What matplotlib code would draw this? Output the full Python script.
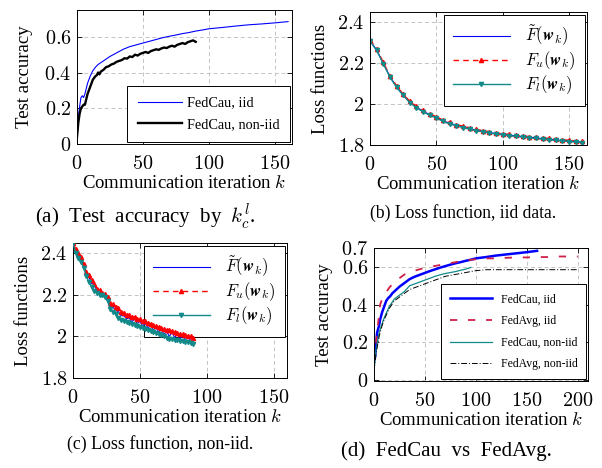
import matplotlib
matplotlib.use("Agg")
import matplotlib.pyplot as plt

plt.rcParams['font.family'] = ['Liberation Serif', 'DejaVu Serif']
plt.rcParams['mathtext.fontset'] = 'cm'

# ---------- (a) test accuracy ----------
k_a_iid = [0, 1, 2, 3, 4, 5, 6, 7, 8, 10, 12, 14, 16, 18, 20, 25, 30, 35, 40, 45, 50,
           55, 60, 65, 70, 75, 80, 85, 90, 95, 100, 110, 120, 130, 140, 150, 160]
acc_a_iid = [0.05, 0.15, 0.21, 0.26, 0.27, 0.26, 0.28, 0.31, 0.34, 0.38, 0.41, 0.43,
             0.445, 0.455, 0.465, 0.49, 0.51, 0.53, 0.545, 0.555, 0.565, 0.575, 0.585,
             0.595, 0.603, 0.61, 0.618, 0.624, 0.632, 0.638, 0.645, 0.652, 0.66, 0.667,
             0.672, 0.678, 0.685]
k_a_non = [0, 1, 2, 3, 4, 5, 6, 7, 8, 9, 10, 11, 12, 13, 14, 15, 16, 17, 18, 19, 20, 22,
           24, 26, 28, 30, 32, 34, 36, 38, 40, 42, 44, 46, 48, 50, 52, 54, 56, 58, 60, 62,
           64, 66, 68, 70, 72, 74, 76, 78, 80, 82, 84, 86, 88, 90]
acc_a_non = [0.04, 0.12, 0.17, 0.20, 0.21, 0.22, 0.22, 0.25, 0.28, 0.30, 0.32, 0.34,
             0.36, 0.37, 0.38, 0.385, 0.40, 0.39, 0.405, 0.41, 0.415, 0.43, 0.435, 0.445,
             0.45, 0.46, 0.465, 0.47, 0.48, 0.478, 0.49, 0.487, 0.50, 0.495, 0.505, 0.51,
             0.515, 0.51, 0.52, 0.525, 0.53, 0.527, 0.535, 0.54, 0.537, 0.545, 0.55, 0.545,
             0.555, 0.56, 0.565, 0.56, 0.57, 0.575, 0.58, 0.572]

# ---------- (b) loss, iid ----------
k_b = [0, 5, 10, 15, 20, 25, 30, 35, 40, 45, 50, 55, 60, 65, 70, 75, 80, 85, 90, 95,
       100, 105, 110, 115, 120, 125, 130, 135, 140, 145, 150, 155, 160]
F_bar_b = [2.31, 2.265, 2.20, 2.135, 2.085, 2.045, 2.01, 1.985, 1.965, 1.948, 1.935,
           1.918, 1.906, 1.897, 1.888, 1.88, 1.873, 1.867, 1.861, 1.856, 1.852, 1.848,
           1.845, 1.841, 1.838, 1.835, 1.831, 1.828, 1.825, 1.822, 1.82, 1.817, 1.814]
F_u_b = [2.313, 2.27, 2.204, 2.138, 2.09, 2.048, 2.014, 1.99, 1.969, 1.952, 1.939,
         1.921, 1.91, 1.9, 1.892, 1.884, 1.877, 1.87, 1.865, 1.86, 1.855, 1.852,
         1.848, 1.845, 1.841, 1.838, 1.835, 1.832, 1.828, 1.826, 1.823, 1.82, 1.818]
F_l_b = [2.308, 2.262, 2.197, 2.132, 2.082, 2.042, 2.007, 1.982, 1.962, 1.945, 1.932,
         1.915, 1.903, 1.894, 1.885, 1.877, 1.87, 1.864, 1.858, 1.853, 1.849, 1.845,
         1.842, 1.838, 1.835, 1.832, 1.828, 1.825, 1.822, 1.819, 1.817, 1.814, 1.812]

# ---------- (c) loss, non-iid ----------
k_c = [0, 2, 4, 6, 8, 10, 12, 14, 16, 18, 20, 22, 24, 26, 28, 30, 32, 34, 36, 38, 40,
       42, 44, 46, 48, 50, 52, 54, 56, 58, 60, 62, 64, 66, 68, 70, 72, 74, 76, 78, 80,
       82, 84, 86, 88, 90]
F_u_c = [2.45, 2.42, 2.40, 2.385, 2.35, 2.31, 2.295, 2.27, 2.255, 2.23, 2.225, 2.21,
         2.205, 2.19, 2.16, 2.155, 2.14, 2.138, 2.12, 2.115, 2.105, 2.102, 2.095, 2.093,
         2.085, 2.082, 2.075, 2.073, 2.065, 2.062, 2.055, 2.052, 2.045, 2.043, 2.035,
         2.033, 2.03, 2.025, 2.022, 2.015, 2.012, 2.01, 2.005, 2.002, 2.0, 1.995]
F_bar_c = [2.45, 2.41, 2.395, 2.37, 2.34, 2.30, 2.285, 2.255, 2.25, 2.215, 2.215, 2.205,
           2.2, 2.18, 2.145, 2.14, 2.125, 2.12, 2.1, 2.1, 2.085, 2.09, 2.07, 2.085,
           2.06, 2.075, 2.05, 2.065, 2.04, 2.055, 2.03, 2.045, 2.02, 2.035, 2.01, 2.025,
           2.0, 2.02, 1.995, 2.01, 1.99, 2.0, 1.985, 1.995, 1.98, 1.975]
F_l_c = [2.45, 2.40, 2.38, 2.36, 2.33, 2.29, 2.26, 2.24, 2.22, 2.21, 2.20, 2.20, 2.19,
         2.17, 2.13, 2.12, 2.11, 2.09, 2.08, 2.075, 2.07, 2.065, 2.06, 2.055, 2.05,
         2.045, 2.04, 2.035, 2.03, 2.025, 2.02, 2.015, 2.01, 2.005, 2.0, 1.995, 1.99,
         1.988, 1.985, 1.982, 1.98, 1.978, 1.975, 1.972, 1.97, 1.965]

# ---------- (d) FedCau vs FedAvg ----------
k_d_cau_iid = [0, 1, 2, 3, 4, 5, 6, 8, 10, 12, 14, 16, 18, 20, 25, 30, 35, 40, 45, 50,
               55, 60, 65, 70, 75, 80, 85, 90, 95, 100, 110, 120, 130, 140, 150, 160]
acc_d_cau_iid = [0.10, 0.12, 0.19, 0.25, 0.27, 0.29, 0.32, 0.36, 0.39, 0.42, 0.435, 0.445,
                 0.46, 0.47, 0.495, 0.515, 0.535, 0.548, 0.558, 0.568, 0.578, 0.587,
                 0.596, 0.604, 0.612, 0.619, 0.625, 0.632, 0.638, 0.645, 0.652, 0.66,
                 0.666, 0.672, 0.678, 0.685]
k_d_avg_iid = [0, 2, 4, 6, 8, 10, 15, 20, 25, 30, 35, 40, 50, 60, 70, 80, 90, 100, 110,
               120, 130, 140, 150, 160, 170, 180, 190, 200]
acc_d_avg_iid = [0.10, 0.20, 0.30, 0.40, 0.43, 0.45, 0.49, 0.52, 0.54, 0.56, 0.57, 0.58,
                 0.595, 0.605, 0.615, 0.625, 0.635, 0.64, 0.645, 0.645, 0.648, 0.65,
                 0.65, 0.652, 0.652, 0.655, 0.655, 0.655]
k_d_cau_non = [0, 2, 5, 8, 10, 15, 20, 25, 30, 35, 40, 45, 50, 55, 60, 65, 70, 75, 80,
               85, 90, 95]
acc_d_cau_non = [0.05, 0.16, 0.25, 0.30, 0.33, 0.39, 0.43, 0.45, 0.47, 0.50, 0.51, 0.52,
                 0.53, 0.54, 0.55, 0.558, 0.565, 0.57, 0.575, 0.582, 0.588, 0.597]
k_d_avg_non = [0, 2, 5, 8, 10, 15, 20, 25, 30, 35, 40, 50, 60, 70, 80, 90, 100, 110,
               120, 140, 160, 180, 200]
acc_d_avg_non = [0.05, 0.14, 0.23, 0.29, 0.32, 0.38, 0.42, 0.44, 0.46, 0.48, 0.49,
                 0.51, 0.53, 0.55, 0.56, 0.57, 0.58, 0.585, 0.585, 0.585, 0.585, 0.585,
                 0.585]

xlabel = r'Communication iteration $k$'
teal = '#138a8a'
LAB = 13.5   # axis label size
TCK = 14.5   # tick label size

fig = plt.figure(figsize=(6.02, 4.68), dpi=100)


def style(ax, xlim, ylim, xticks, yticks, ylabels):
    ax.set_xlim(*xlim)
    ax.set_ylim(*ylim)
    ax.set_xticks(xticks)
    ax.set_xticklabels(['$%d$' % t for t in xticks])
    ax.set_yticks(yticks)
    ax.set_yticklabels(['$%s$' % s for s in ylabels])
    ax.tick_params(direction='in', top=True, right=True, length=3.5, width=0.6,
                   labelsize=TCK, pad=4)
    ax.tick_params(axis='x', pad=8)
    ax.grid(True, color='#c4c4c4', linestyle=(0, (4, 3)), linewidth=0.7)
    ax.set_axisbelow(True)
    for s in ax.spines.values():
        s.set_linewidth(0.7)
    ax.set_xlabel(xlabel, fontsize=LAB, labelpad=0.5)


def leg(ax, loc, fs, hl, ls, tp, bp=0.75):
    l = ax.legend(loc=loc, fontsize=fs, frameon=True, fancybox=False, framealpha=1,
                  edgecolor='black', borderaxespad=0.15, handlelength=hl,
                  labelspacing=ls, borderpad=bp, handletextpad=tp)
    l.get_frame().set_linewidth(0.7)
    return l


# (a)
ax = fig.add_axes([77 / 602, 1 - 144 / 468, 215 / 602, 134 / 468])
ax.plot(k_a_iid, acc_a_iid, color='blue', lw=0.8, label='FedCau, iid')
ax.plot(k_a_non, acc_a_non, color='black', lw=1.7, label='FedCau, non-iid')
style(ax, (0, 163), (0, 0.75), [0, 50, 100, 150], [0, 0.2, 0.4, 0.6],
      ['0', '0.2', '0.4', '0.6'])
ax.set_ylabel('Test accuracy', fontsize=LAB, labelpad=8)
leg(ax, 'lower right', 10.3, 3.1, 0.6, 0.3)
fig.text(145 / 602, 1 - 217 / 468, r'(a)  Test  accuracy  by  $k_c^l$.', ha='center',
         va='center', fontsize=15)

# (b)
ax = fig.add_axes([370 / 602, 1 - 145 / 468, 217 / 602, 133 / 468])
ax.plot(k_b, F_bar_b, color='blue', lw=0.8, label=r'$\tilde{F}(\mathbfit{w}_k)$')
ax.plot(k_b, F_u_b, color='red', lw=1.0, ls=(0, (4, 3)), marker='^', ms=3,
        label=r'$F_u(\mathbfit{w}_k)$')
ax.plot(k_b, F_l_b, color=teal, lw=1.0, marker='v', ms=3,
        label=r'$F_l(\mathbfit{w}_k)$')
style(ax, (0, 163.5), (1.8, 2.45), [0, 50, 100, 150], [1.8, 2, 2.2, 2.4],
      ['1.8', '2', '2.2', '2.4'])
ax.set_ylabel('Loss functions', fontsize=LAB, labelpad=6)
l = leg(ax, 'upper right', 12, 3.4, 0.08, 0.9, 0.55)
for h in l.legend_handles:
    h.set_markevery([1])
fig.text(463 / 602, 1 - 213 / 468, '(b) Loss function, iid data.', ha='center',
         va='center', fontsize=12.7)

# (c)
ax = fig.add_axes([73 / 602, 1 - 378 / 468, 214 / 602, 135 / 468])
ax.plot(k_c, F_bar_c, color='blue', lw=0.8, label=r'$\tilde{F}(\mathbfit{w}_k)$',
        zorder=3)
ax.plot(k_c, F_u_c, color='red', lw=1.0, ls=(0, (4, 3)), marker='^', ms=3,
        label=r'$F_u(\mathbfit{w}_k)$', zorder=3)
ax.plot(k_c, F_l_c, color=teal, lw=1.0, marker='v', ms=3,
        label=r'$F_l(\mathbfit{w}_k)$', zorder=3)
style(ax, (0, 160), (1.8, 2.45), [0, 50, 100, 150], [1.8, 2, 2.2, 2.4],
      ['1.8', '2', '2.2', '2.4'])
ax.set_ylabel('Loss functions', fontsize=LAB, labelpad=6)
l = leg(ax, 'upper right', 12, 3.4, 0.08, 0.9, 0.55)
l.set_zorder(2)
for h in l.legend_handles:
    h.set_markevery([1])
fig.text(160 / 602, 1 - 444 / 468, '(c) Loss function, non-iid.', ha='center',
         va='center', fontsize=12.9)

# (d)
ax = fig.add_axes([374 / 602, 1 - 381 / 468, 214 / 602, 133 / 468])
ax.plot(k_d_cau_iid, acc_d_cau_iid, color='blue', lw=1.8, label='FedCau, iid')
ax.plot(k_d_avg_iid, acc_d_avg_iid, color='#d01f48', lw=1.3, ls=(0, (4, 6)),
        label='FedAvg, iid')
ax.plot(k_d_cau_non, acc_d_cau_non, color=teal, lw=0.9, label='FedCau, non-iid')
ax.plot(k_d_avg_non, acc_d_avg_non, color='black', lw=0.7, ls=(0, (6, 2, 1, 2)),
        label='FedAvg, non-iid')
style(ax, (0, 210), (-0.005, 0.7), [0, 50, 100, 150, 200], [0, 0.2, 0.4, 0.6, 0.7],
      ['0', '0.2', '0.4', '0.6', '0.7'])
ax.set_ylabel('Test accuracy', fontsize=LAB, labelpad=6)
leg(ax, 'lower right', 8.5, 3.6, 0.82, 0.7)
fig.text(446 / 602, 1 - 451 / 468, r'(d)  FedCau  vs  FedAvg.', ha='center',
         va='center', fontsize=15)

fig.savefig('out.png', dpi=100)
